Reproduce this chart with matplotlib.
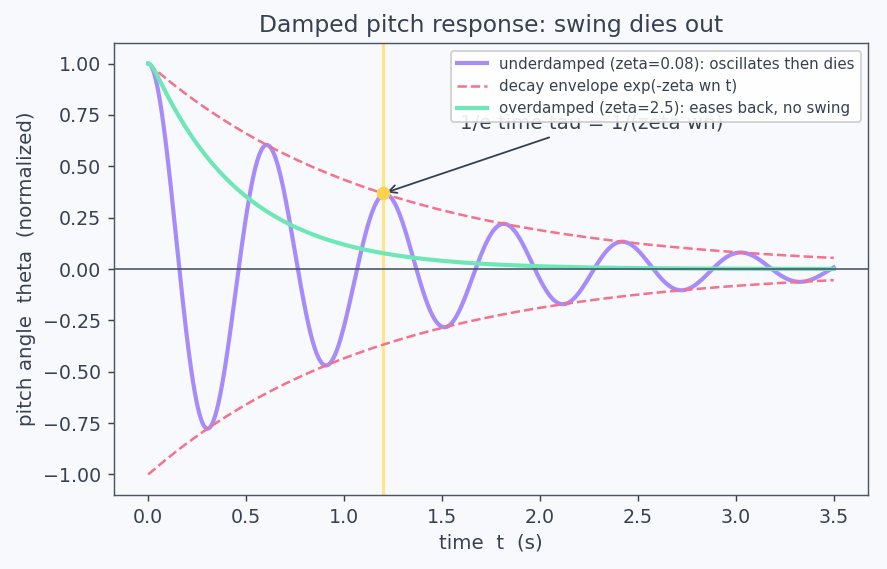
import numpy as np
import matplotlib
matplotlib.use("Agg")
import matplotlib.pyplot as plt

# system parameters
ZETA_UNDER = 0.08
ZETA_OVER = 2.5
WN = 10.42          # rad/s, gives tau = 1/(zeta wn) ~ 1.2 s
T_END = 3.5
TAU_MARK = 1.2

LABEL_UNDER = "underdamped (zeta=0.08): oscillates then dies"
LABEL_ENV = "decay envelope exp(-zeta wn t)"
LABEL_OVER = "overdamped (zeta=2.5): eases back, no swing"

BG = "#f8f9fc"
TXT = "#374151"
C_UNDER = "#a78bfa"
C_ENV = "#f4728c"
C_OVER = "#6ee7b7"
C_TAU = "#fde68a"
C_DOT = "#fcd34d"

t = np.linspace(0, T_END, 800)

# underdamped release response
wd = WN * np.sqrt(1 - ZETA_UNDER**2)
env = np.exp(-ZETA_UNDER * WN * t)
under = env * (np.cos(wd * t) + ZETA_UNDER * WN / wd * np.sin(wd * t))

# overdamped response
r = WN * np.sqrt(ZETA_OVER**2 - 1)
s1 = -ZETA_OVER * WN + r
s2 = -ZETA_OVER * WN - r
over = (s2 * np.exp(s1 * t) - s1 * np.exp(s2 * t)) / (s2 - s1)

tau = 1 / (ZETA_UNDER * WN)

plt.rcParams["font.family"] = "DejaVu Sans"
fig, ax = plt.subplots(figsize=(887 / 130, 569 / 130), dpi=130)
fig.patch.set_facecolor(BG)
ax.set_facecolor(BG)

ax.axvline(TAU_MARK, color=C_TAU, lw=1.8, zorder=1)
ax.plot(t, under, color=C_UNDER, lw=2.3, label=LABEL_UNDER, zorder=2)
ax.plot(t, env, color=C_ENV, lw=1.4, ls="--", label=LABEL_ENV, zorder=3)
ax.plot(t, -env, color=C_ENV, lw=1.4, ls="--", zorder=3)
ax.plot(t, over, color=C_OVER, lw=2.3, label=LABEL_OVER, zorder=4)
ax.axhline(0, color="#475569", lw=0.9, zorder=5)
ax.plot([TAU_MARK], [np.exp(-TAU_MARK / tau)], "o", color=C_DOT, ms=6.5, zorder=6)

ax.annotate("1/e time tau = 1/(zeta wn)", xy=(TAU_MARK, np.exp(-TAU_MARK / tau)),
            xytext=(1.59, 0.71), fontsize=11, color=TXT, va="center",
            arrowprops=dict(arrowstyle="->", color="#334155", lw=1.0))

ax.set_title("Damped pitch response: swing dies out", fontsize=13, color=TXT)
ax.set_xlabel("time  t  (s)", fontsize=11, color=TXT)
ax.set_ylabel("pitch angle  theta  (normalized)", fontsize=11, color=TXT)
ax.tick_params(colors=TXT, labelsize=10.5)
for s in ax.spines.values():
    s.set_color("#4b5563")

leg = ax.legend(loc="upper right", fontsize=8.3, framealpha=0.9)
leg.set_zorder(10)
for txt in leg.get_texts():
    txt.set_color(TXT)

fig.subplots_adjust(left=0.1285, right=0.9786, top=0.9244, bottom=0.130)
fig.savefig("out.png", dpi=130, facecolor=BG)
